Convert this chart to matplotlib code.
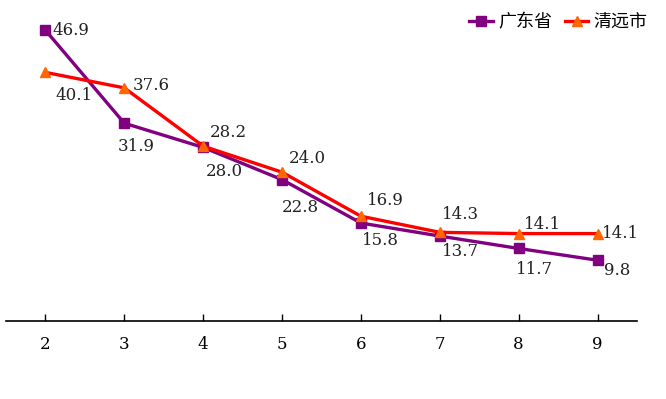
import matplotlib.pyplot as plt
from matplotlib.lines import Line2D

plt.rcParams['font.family'] = ['DejaVu Serif', 'Noto Sans CJK SC', 'DejaVu Sans']

# data
x = [2, 3, 4, 5, 6, 7, 8, 9]
guangdong = [46.9, 31.9, 28.0, 22.8, 15.8, 13.7, 11.7, 9.8]
qingyuan = [40.1, 37.6, 28.2, 24.0, 16.9, 14.3, 14.1, 14.1]
names = ['广东省', '清远市']

# label offsets in pixels (dx, dy) relative to each point
gd_off = [(25, 0), (12, -23), (21, -24), (18, -28), (19, -17), (21, -15), (16, -21), (20, -10)]
qy_off = [(29, -23), (27, 2), (25, 14), (25, 14), (24, 16), (21, 18), (24, 9), (23, 0)]

W, H = 666, 399
fig = plt.figure(figsize=(W / 100, H / 100), dpi=100)
ax = fig.add_axes([6 / W, (H - 321) / H, 631 / W, 310 / H])

ax.plot(x, guangdong, color='#800080', lw=2.4, marker='s', ms=7,
        mfc='#800080', mec='#800080', zorder=3)
ax.plot(x, qingyuan, color='#FF0000', lw=2.4, marker='^', ms=7.5,
        mfc='#FF6600', mec='#FF6600', zorder=3)

for xi, v, (dx, dy) in zip(x, guangdong, gd_off):
    ax.annotate(f'{v:.1f}', (xi, v), xytext=(dx, dy), textcoords='offset pixels',
                ha='center', va='center', fontsize=12, color='#222222')
for xi, v, (dx, dy) in zip(x, qingyuan, qy_off):
    ax.annotate(f'{v:.1f}', (xi, v), xytext=(dx, dy), textcoords='offset pixels',
                ha='center', va='center', fontsize=12, color='#222222')

ax.set_xlim(1.5, 9.5)
ax.set_ylim(0, 50)
ax.set_xticks(x)
ax.set_yticks([])
for s in ['top', 'right', 'left']:
    ax.spines[s].set_visible(False)
ax.spines['bottom'].set_linewidth(1.2)
ax.tick_params(axis='x', direction='in', length=5, width=1, pad=11, labelsize=12)

handles = [
    Line2D([], [], color='#800080', lw=2.4, marker='s', ms=7, mfc='#800080', mec='#800080'),
    Line2D([], [], color='#FF0000', lw=2.4, marker='^', ms=7.5, mfc='#FF6600', mec='#FF6600'),
]
fig.legend(handles, names, loc='upper right', bbox_to_anchor=(0.997, 1.007), ncol=2,
           frameon=False, fontsize=13, handlelength=1.3, handletextpad=0.3,
           columnspacing=0.7)

fig.savefig('out.png', dpi=100)
